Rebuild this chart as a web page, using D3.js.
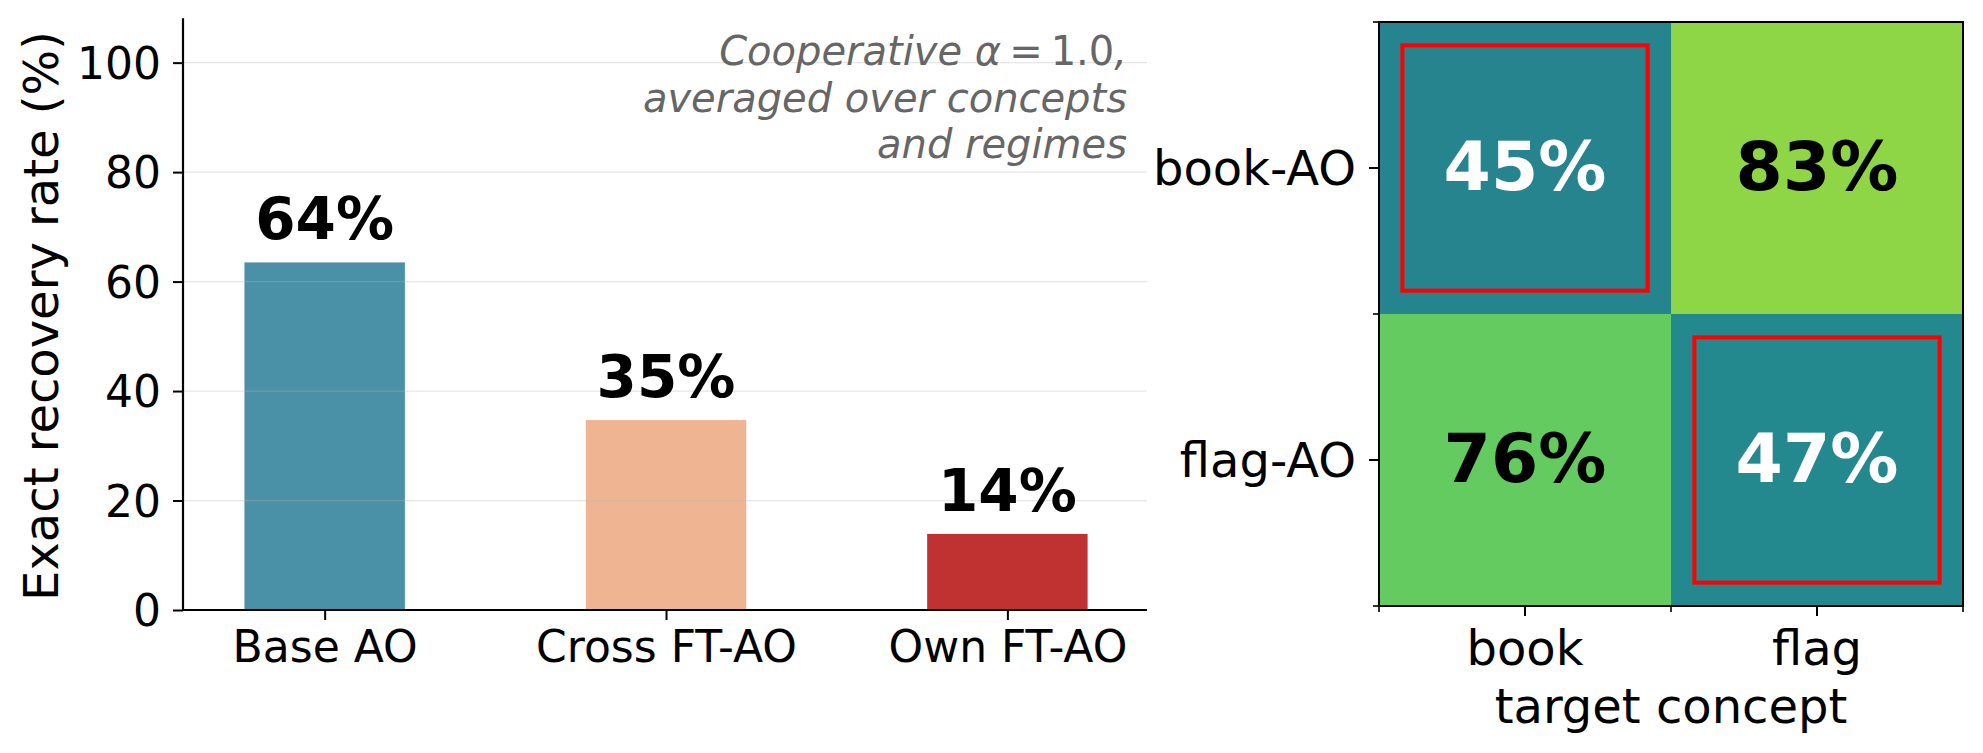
<!DOCTYPE html>
<html>
<head>
<meta charset="utf-8">
<script src="https://cdn.jsdelivr.net/npm/d3@7"></script>
<style>
  html, body { margin: 0; padding: 0; background: #fff; }
  svg { display: block; font-family: "DejaVu Sans", sans-serif; }
</style>
</head>
<body>
<svg id="chart" width="1983" height="753"></svg>
<script>
// ---------- data ----------
const barCategories = ["Base AO", "Cross FT-AO", "Own FT-AO"];
const barValues = [63.5, 34.7, 13.9];
const barColors = ["#4a90a6", "#efb593", "#c03232"];
const yTicks = [0, 20, 40, 60, 80, 100];
// annotation: first line split into [text, style] pieces (math part upright)
const annotationLine1 = [["Cooperative ", "italic"], ["\u03b1", "italic"], ["\u2009=\u20091.0", "normal"], [",", "italic"]];
const annotationLines = ["averaged over concepts", "and regimes"];
const yAxisLabel = "Exact recovery rate (%)";

const heatRows = ["book-AO", "flag-AO"];
const heatCols = ["book", "flag"];
const heatValues = [[45, 83], [76, 47]];
const heatXLabel = "target concept";

// ---------- setup ----------
const svg = d3.select("#chart");
const FONT = "DejaVu Sans, sans-serif";

// ---------- left: bar chart ----------
const x = d3.scaleLinear().domain([-0.415, 2.409]).range([183, 1147]);
const y = d3.scaleLinear().domain([0, 108.1]).range([610, 18.3]);
const barW = 0.47;

const left = svg.append("g");

// bars
left.selectAll("rect.bar").data(barValues).enter().append("rect")
  .attr("class", "bar")
  .attr("x", (d, i) => x(i - barW / 2))
  .attr("width", (d, i) => x(i + barW / 2) - x(i - barW / 2))
  .attr("y", d => y(d))
  .attr("height", d => y(0) - y(d))
  .attr("fill", (d, i) => barColors[i]);

// grid (drawn above bars, semi transparent)
left.selectAll("line.grid").data(yTicks.filter(t => t > 0)).enter().append("line")
  .attr("x1", x(-0.415)).attr("x2", x(2.409))
  .attr("y1", d => y(d)).attr("y2", d => y(d))
  .attr("stroke", "#b6b6b6").attr("stroke-opacity", 0.34).attr("stroke-width", 1.3);

// y axis
const yAxis = d3.axisLeft(y).tickValues(yTicks).tickSize(10).tickPadding(12);
const gy = left.append("g").attr("transform", `translate(${x(-0.415)},0)`).call(yAxis);
gy.select(".domain").attr("stroke", "#000").attr("stroke-width", 2.2).attr("d", `M-0,${y(0)}V${y(108.1)}`);
gy.selectAll(".tick line").attr("stroke", "#000").attr("stroke-width", 2);
gy.selectAll(".tick text").attr("font-family", FONT).attr("font-size", 44).attr("fill", "#000")
  .attr("dy", null).attr("dominant-baseline", "central");

// x axis
const xAxis = d3.axisBottom(x).tickValues([0, 1, 2]).tickFormat(i => barCategories[i]).tickSize(10).tickPadding(10);
const gx = left.append("g").attr("transform", `translate(0,${y(0)})`).call(xAxis);
gx.select(".domain").attr("stroke", "#000").attr("stroke-width", 2.2).attr("d", `M${x(-0.415)},0H${x(2.409)}`);
gx.selectAll(".tick line").attr("stroke", "#000").attr("stroke-width", 2);
gx.selectAll(".tick text").attr("font-family", FONT).attr("font-size", 44).attr("fill", "#000")
  .attr("dy", null).attr("y", 52);

// bar value labels
left.selectAll("text.val").data(barValues).enter().append("text")
  .attr("x", (d, i) => x(i))
  .attr("y", d => y(d) - 23)
  .attr("text-anchor", "middle")
  .attr("font-family", FONT).attr("font-weight", "bold").attr("font-size", 58)
  .attr("fill", "#000")
  .text(d => d.toFixed(0) + "%");

// y label
left.append("text")
  .attr("transform", `translate(58,316) rotate(-90)`)
  .attr("text-anchor", "middle")
  .attr("font-family", FONT).attr("font-size", 48).attr("fill", "#000")
  .text(yAxisLabel);

// annotation
const ann1 = left.append("text")
  .attr("x", 1127).attr("y", 65)
  .attr("text-anchor", "end")
  .attr("font-family", FONT).attr("font-size", 40).attr("fill", "#666666");
ann1.selectAll("tspan").data(annotationLine1).enter().append("tspan")
  .attr("font-style", d => d[1])
  .text(d => d[0]);
left.selectAll("text.ann").data(annotationLines).enter().append("text")
  .attr("x", 1127)
  .attr("y", (d, i) => 65 + (i + 1) * 46.5)
  .attr("text-anchor", "end")
  .attr("font-family", FONT).attr("font-style", "italic").attr("font-size", 40)
  .attr("fill", "#666666")
  .text(d => d);

// ---------- right: heatmap ----------
const hx = d3.scaleBand().domain(heatCols).range([1379, 1963]);
const hy = d3.scaleBand().domain(heatRows).range([22, 606]);
const color = d3.scaleSequential(d3.interpolateViridis).domain([0, 100]);

const cells = [];
heatRows.forEach((r, i) => heatCols.forEach((c, j) => cells.push({ r, c, v: heatValues[i][j], diag: i === j })));

const right = svg.append("g");
right.selectAll("rect.cell").data(cells).enter().append("rect")
  .attr("x", d => hx(d.c)).attr("y", d => hy(d.r))
  .attr("width", hx.bandwidth()).attr("height", hy.bandwidth())
  .attr("fill", d => color(d.v));

// red highlight boxes on diagonal
const inset = hx.bandwidth() * 0.08;
right.selectAll("rect.hl").data(cells.filter(d => d.diag)).enter().append("rect")
  .attr("x", d => hx(d.c) + inset).attr("y", d => hy(d.r) + inset)
  .attr("width", hx.bandwidth() - 2 * inset).attr("height", hy.bandwidth() - 2 * inset)
  .attr("fill", "none").attr("stroke", "#ff0000").attr("stroke-width", 4);

// cell labels
right.selectAll("text.cl").data(cells).enter().append("text")
  .attr("x", d => hx(d.c) + hx.bandwidth() / 2)
  .attr("y", d => hy(d.r) + hy.bandwidth() / 2 + 22)
  .attr("text-anchor", "middle")
  .attr("font-family", FONT).attr("font-weight", "bold").attr("font-size", 68)
  .attr("fill", d => d.v < 60 ? "#ffffff" : "#000000")
  .text(d => d.v + "%");

// frame
right.append("rect")
  .attr("x", 1379).attr("y", 22).attr("width", 584).attr("height", 584)
  .attr("fill", "none").attr("stroke", "#000").attr("stroke-width", 2);

// major ticks (centers)
const hxAxis = d3.axisBottom(hx).tickSize(10).tickPadding(12);
const ghx = right.append("g").attr("transform", `translate(0,606)`).call(hxAxis);
ghx.select(".domain").remove();
ghx.selectAll(".tick line").attr("stroke", "#000").attr("stroke-width", 2);
ghx.selectAll(".tick text").attr("font-family", FONT).attr("font-size", 48).attr("fill", "#000")
  .attr("dy", null).attr("y", 59);

const hyAxis = d3.axisLeft(hy).tickSize(10).tickPadding(13);
const ghy = right.append("g").attr("transform", `translate(1379,0)`).call(hyAxis);
ghy.select(".domain").remove();
ghy.selectAll(".tick line").attr("stroke", "#000").attr("stroke-width", 2);
ghy.selectAll(".tick text").attr("font-family", FONT).attr("font-size", 48).attr("fill", "#000")
  .attr("dy", null).attr("dominant-baseline", "central");

// minor ticks (cell edges)
const xEdges = [hx.range()[0], hx(heatCols[1]), hx.range()[1]];
const yEdges = [hy.range()[0], hy(heatRows[1]), hy.range()[1]];
right.selectAll("line.mx").data(xEdges).enter().append("line")
  .attr("x1", d => d).attr("x2", d => d).attr("y1", 606).attr("y2", 612)
  .attr("stroke", "#000").attr("stroke-width", 1.6);
right.selectAll("line.my").data(yEdges).enter().append("line")
  .attr("y1", d => d).attr("y2", d => d).attr("x1", 1379).attr("x2", 1373)
  .attr("stroke", "#000").attr("stroke-width", 1.6);

// x label
right.append("text")
  .attr("x", 1671).attr("y", 723)
  .attr("text-anchor", "middle")
  .attr("font-family", FONT).attr("font-size", 48).attr("fill", "#000")
  .text(heatXLabel);
</script>
</body>
</html>
